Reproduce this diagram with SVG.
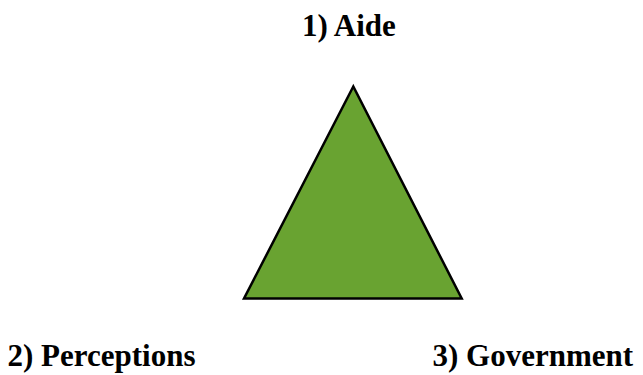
<svg xmlns="http://www.w3.org/2000/svg" width="643" height="375" viewBox="0 0 643 375">
<style>
.lbl{font-family:"Liberation Serif","Times New Roman",serif;font-weight:bold;font-size:31px;fill:#000}
.tri{fill:#69a331;stroke:#000;stroke-width:2.5;stroke-linejoin:miter}
</style>
<rect width="643" height="375" fill="#fff"/>
<g id="triangle"><polygon class="tri" points="353.3,86.5 244,298.5 461.7,298.5"/></g>
<g id="aide"><text class="lbl" x="302" y="35.5">1) Aide</text></g>
<g id="perceptions"><text class="lbl" x="7.5" y="366">2) Perceptions</text></g>
<g id="government"><text class="lbl" x="432.5" y="366">3) Government</text></g>
<g id="connectors"></g>
</svg>
